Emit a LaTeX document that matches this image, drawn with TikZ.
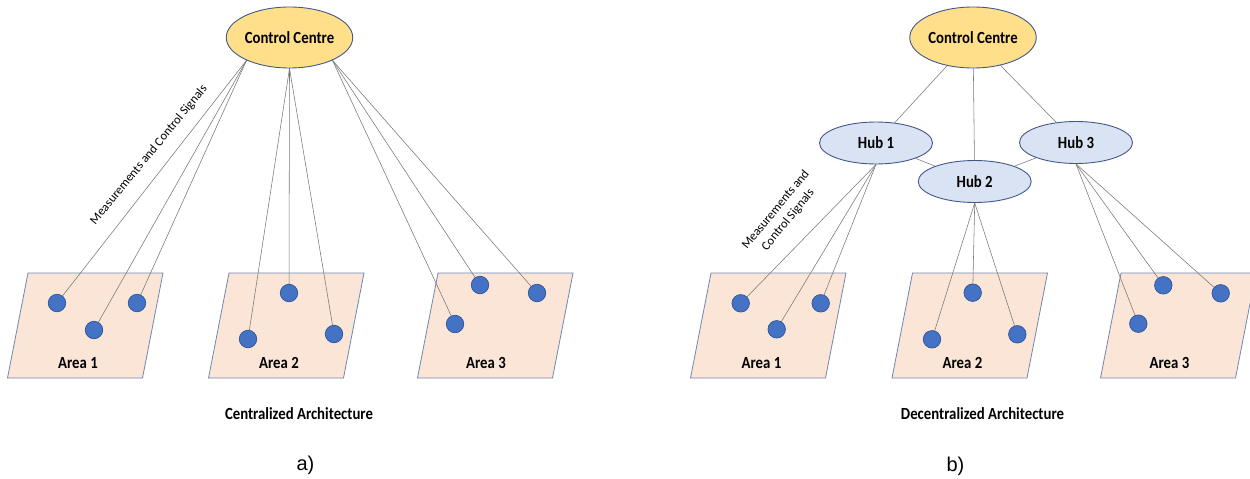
\documentclass[tikz,border=0pt]{standalone}
\usepackage{fontspec}
\setmainfont{Carlito}
\newfontfamily\lblfont[FakeStretch=0.87]{Carlito}
\newfontfamily\capfont{Liberation Sans}
\usetikzlibrary{shapes.geometric}

\definecolor{ccfill}{HTML}{FFDF8A}
\definecolor{hubfill}{HTML}{DAE3F3}
\definecolor{edgeblue}{HTML}{41598A}
\definecolor{areafill}{HTML}{FBE5D6}
\definecolor{areaedge}{HTML}{6F86B4}
\definecolor{dotblue}{HTML}{4472C4}
\definecolor{dotedge}{HTML}{2F5597}
\definecolor{linkgray}{HTML}{767676}

\pgfdeclarelayer{areas}
\pgfdeclarelayer{links}
\pgfsetlayers{areas,links,main}

\tikzset{
  boldlbl/.style={font=\lblfont\bfseries\fontsize{17}{19}\selectfont},
  ctrl/.style={ellipse, draw=edgeblue, line width=0.9pt, fill=ccfill,
    minimum width=113pt, minimum height=61pt, inner sep=0pt, boldlbl},
  hub/.style={ctrl, fill=hubfill, minimum height=42pt},
  dot/.style={circle, fill=dotblue, draw=dotedge, line width=0.7pt,
    minimum size=17.5pt, inner sep=0pt},
  link/.style={draw=linkgray, line width=0.55pt},
  areabox/.style={fill=areafill, draw=areaedge, line width=0.8pt},
  arealabel/.style={inner sep=0pt, boldlbl},
  title/.style={inner sep=0pt, boldlbl},
  panel/.style={inner sep=0pt, font=\capfont\fontsize{20}{24}\selectfont},
  sig/.style={inner sep=0pt, rotate=50.5, align=center,
    font=\fontsize{12.5}{16}\selectfont}
}

\begin{document}
\begin{tikzpicture}[x=1pt,y=-1pt]
\useasboundingbox (0,0) rectangle (1250,479);
\clip (0,0) rectangle (1250,479);

% parallelogram areas
\begin{pgfonlayer}{areas}
  \foreach \tx in {28,229,438,711,912.5,1121}
    \draw[areabox] (\tx,273) -- ++(135,0) -- ++(-20.5,105) -- ++(-135,0) -- cycle;
\end{pgfonlayer}

% ---------- a) centralized ----------
\node[ctrl] (ccL) at (289.5,37.5) {Control Centre};

\node[dot] (L1a) at (57,303) {};
\node[dot] (L1b) at (94,330) {};
\node[dot] (L1c) at (137,303) {};
\node[dot] (L2a) at (248,339) {};
\node[dot] (L2b) at (289,293) {};
\node[dot] (L2c) at (334,334) {};
\node[dot] (L3a) at (455,324) {};
\node[dot] (L3b) at (480,285) {};
\node[dot] (L3c) at (537,293) {};

\node[arealabel] (aL1) at (78,363) {Area 1};
\node[arealabel] (aL2) at (279,363) {Area 2};
\node[arealabel] (aL3) at (486,363) {Area 3};

\node[sig] (sigL) at (149,155) {Measurements and Control Signals};
\node[title] (tL) at (299,414) {Centralized Architecture};
\node[panel] (pa) at (305.5,465) {a)};

\begin{pgfonlayer}{links}
  \foreach \d in {L1a,L1b,L1c} \draw[link] (ccL.208) -- (\d.center);
  \foreach \d in {L2a,L2b,L2c} \draw[link] (ccL.south) -- (\d.center);
  \foreach \d in {L3a,L3b,L3c} \draw[link] (ccL.332) -- (\d.center);
\end{pgfonlayer}

% ---------- b) decentralized ----------
\node[ctrl] (ccR) at (973,37.5) {Control Centre};
\node[hub] (h1) at (876,143) {Hub 1};
\node[hub] (h2) at (974.7,181.5) {Hub 2};
\node[hub] (h3) at (1076,142.5) {Hub 3};

\node[dot] (R1a) at (740.7,303.3) {};
\node[dot] (R1b) at (776.7,329.3) {};
\node[dot] (R1c) at (820.7,303.3) {};
\node[dot] (R2a) at (932,339.3) {};
\node[dot] (R2b) at (972.7,292.7) {};
\node[dot] (R2c) at (1017.3,334.3) {};
\node[dot] (R3a) at (1138.3,323.7) {};
\node[dot] (R3b) at (1163.3,285.3) {};
\node[dot] (R3c) at (1220.7,293.3) {};

\node[arealabel] (aR1) at (761.5,363) {Area 1};
\node[arealabel] (aR2) at (962.5,363) {Area 2};
\node[arealabel] (aR3) at (1169.5,363) {Area 3};

\node[sig] (sigR) at (782,215) {Measurements and\\Control Signals};
\node[title] (tR) at (982.5,414) {Decentralized Architecture};
\node[panel] (pb) at (955.5,466) {b)};

\begin{pgfonlayer}{links}
  \draw[link] (ccR) -- (h1);
  \draw[link] (ccR) -- (h2);
  \draw[link] (ccR) -- (h3);
  \draw[link] (h1) -- (h2);
  \draw[link] (h3) -- (h2);
  \foreach \d in {R1a,R1b,R1c} \draw[link] (h1.south) -- (\d.center);
  \foreach \d in {R2a,R2b,R2c} \draw[link] (h2.south) -- (\d.center);
  \foreach \d in {R3a,R3b,R3c} \draw[link] (h3.south) -- (\d.center);
\end{pgfonlayer}
\end{tikzpicture}
\end{document}
